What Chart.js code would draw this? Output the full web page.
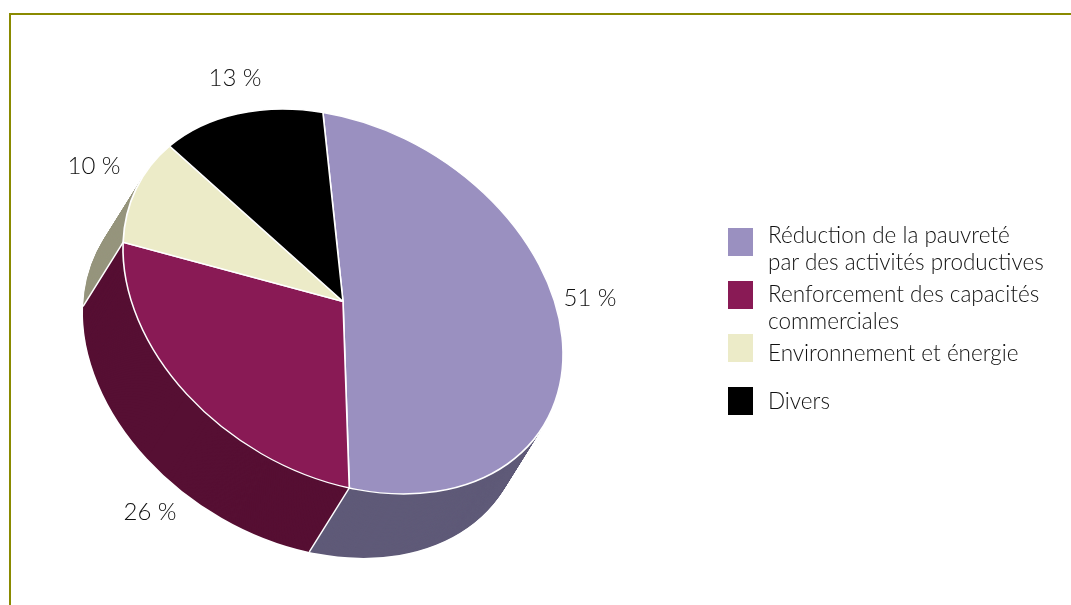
<!DOCTYPE html>
<html>
<head>
<meta charset="utf-8">
<title>Répartition</title>
<script src="https://cdn.jsdelivr.net/npm/chart.js@4"></script>
<style>
  html, body { margin: 0; background: #fff; overflow: hidden; }
  #wrap { position: relative; width: 1071px; height: 605px; font-family: Lato, sans-serif; font-weight: 300; color: #111; }
  #frame { position: absolute; left: 9px; top: 13px; right: 0; bottom: 0; border-top: 2px solid #8a8a00; border-left: 2px solid #8a8a00; }
  canvas { position: absolute; left: 0; top: 0; }
  .pct, .leg { position: absolute; line-height: 27px; white-space: nowrap; }
  .pct { font-size: 24px; transform: translate(-50%, -50%); }
  .leg { font-size: 22.5px; }
  .swatch { position: absolute; left: 728px; width: 25px; height: 28px; }
</style>
</head>
<body>
<div id="wrap">
  <div id="frame"></div>
  <canvas id="myChart" width="1071" height="605"></canvas>
</div>
<script>
var categories = [
    ['Réduction de la pauvreté', 'par des activités productives'],
    ['Renforcement des capacités', 'commerciales'],
    ['Environnement et énergie'],
    ['Divers']
];
var shares = [51, 26, 10, 13];
var topColors = ['#9a90c0', '#891a55', '#ecebc8', '#000000'];
var sideColors = ['#5f5a78', '#560f33', '#96957d', '#000000'];

// text placement, not data
var pctCenters = [[590, 296], [150, 510], [94, 164], [235, 76]];
var legendTextTops = [221, 280, 339, 387];
var legendSwatchTops = [228, 281, 334, 387];

// tilt of the disc, and the direction the wall drops to
var tilt = { a: 219 / 200, b: 28.6 / 200, d: 191 / 200 };
var drop = { x: -40, y: 64 };

var pie3d = {
    id: 'pie3d',
    beforeDatasetDraw: function(chart, args) {
        var ctx = chart.ctx;
        var arcs = args.meta.data;
        var cx = arcs[0].x, cy = arcs[0].y;

        function place(dx, dy) {
            ctx.setTransform(tilt.a, tilt.b, tilt.b, tilt.d, cx + dx, cy + dy);
            ctx.translate(-cx, -cy);
        }
        function drawArc(arc, color, bw) {
            var saved = arc.options;
            arc.options = Object.assign({}, saved, { backgroundColor: color, borderWidth: bw });
            arc.draw(ctx);
            arc.options = saved;
        }

        ctx.save();
        // wall: stack the slices from the bottom up
        var steps = 80;
        for (var s = steps; s > 0; s--) {
            place(drop.x * s / steps, drop.y * s / steps);
            arcs.forEach(function(arc, i) { drawArc(arc, sideColors[i], 0); });
        }
        // white edges where one wall colour meets the next
        ctx.setTransform(1, 0, 0, 1, 0, 0);
        ctx.strokeStyle = '#fff';
        ctx.lineWidth = 1.5;
        arcs.forEach(function(arc) {
            var ux = Math.cos(arc.endAngle) * arc.outerRadius;
            var uy = Math.sin(arc.endAngle) * arc.outerRadius;
            var px = cx + tilt.a * ux + tilt.b * uy;
            var py = cy + tilt.b * ux + tilt.d * uy;
            ctx.beginPath();
            ctx.moveTo(px, py);
            ctx.lineTo(px + drop.x, py + drop.y);
            ctx.stroke();
        });
        // top of the disc
        place(0, 0);
        arcs.forEach(function(arc, i) { drawArc(arc, topColors[i], 1.5); });
        ctx.restore();
        return false;
    }
};

document.addEventListener('DOMContentLoaded', function() {
    var ctx = document.getElementById('myChart').getContext('2d');
    new Chart(ctx, {
        type: 'pie',
        data: {
            labels: categories.map(function(c) { return c.join(' '); }),
            datasets: [{
                data: shares,
                backgroundColor: topColors,
                borderColor: '#ffffff',
                borderWidth: 1.5
            }]
        },
        options: {
            responsive: false,
            animation: false,
            rotation: 2.2,
            layout: { padding: { left: 143, right: 528, top: 101, bottom: 103 } },
            plugins: { legend: { display: false }, tooltip: { enabled: false } }
        },
        plugins: [pie3d]
    });

    var wrap = document.getElementById('wrap');
    shares.forEach(function(v, i) {
        var p = document.createElement('div');
        p.className = 'pct';
        p.textContent = v + ' %';
        p.style.left = pctCenters[i][0] + 'px';
        p.style.top = pctCenters[i][1] + 'px';
        wrap.appendChild(p);

        var sw = document.createElement('div');
        sw.className = 'swatch';
        sw.style.top = legendSwatchTops[i] + 'px';
        sw.style.background = topColors[i];
        wrap.appendChild(sw);

        var t = document.createElement('div');
        t.className = 'leg';
        t.style.left = '768px';
        t.style.top = legendTextTops[i] + 'px';
        t.innerHTML = categories[i].join('<br>');
        wrap.appendChild(t);
    });
});
</script>
</body>
</html>
